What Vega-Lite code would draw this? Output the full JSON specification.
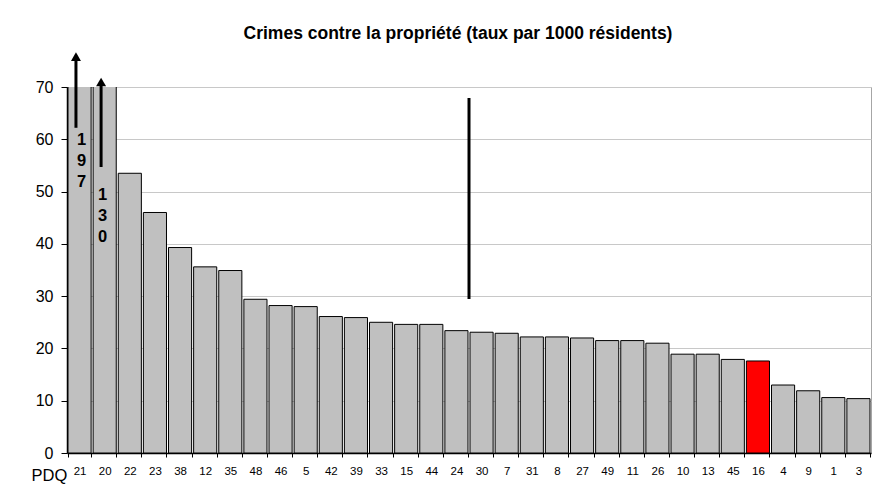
{
  "$schema": "https://vega.github.io/schema/vega-lite/v6.json",
  "width": 804,
  "height": 366,
  "autosize": {"type": "none"},
  "padding": {"left": 67, "top": 87, "right": 19, "bottom": 46},
  "background": "white",
  "title": {
    "text": "Crimes contre la propriété (taux par 1000 résidents)",
    "font": "Liberation Sans",
    "fontSize": 17.5,
    "fontWeight": "bold",
    "color": "#000000",
    "anchor": "middle",
    "frame": "group",
    "dx": -11,
    "offset": 10
  },
  "datasets": {
    "taux": [
      {"pdq": "21", "taux": 197},
      {"pdq": "20", "taux": 130},
      {"pdq": "22", "taux": 53.5},
      {"pdq": "23", "taux": 46.0},
      {"pdq": "38", "taux": 39.3},
      {"pdq": "12", "taux": 35.6},
      {"pdq": "35", "taux": 34.9},
      {"pdq": "48", "taux": 29.4},
      {"pdq": "46", "taux": 28.2},
      {"pdq": "5", "taux": 28.0},
      {"pdq": "42", "taux": 26.1},
      {"pdq": "39", "taux": 25.9},
      {"pdq": "33", "taux": 25.0},
      {"pdq": "15", "taux": 24.6},
      {"pdq": "44", "taux": 24.6},
      {"pdq": "24", "taux": 23.4},
      {"pdq": "30", "taux": 23.1},
      {"pdq": "7", "taux": 22.9},
      {"pdq": "31", "taux": 22.2},
      {"pdq": "8", "taux": 22.2},
      {"pdq": "27", "taux": 22.0},
      {"pdq": "49", "taux": 21.5},
      {"pdq": "11", "taux": 21.5},
      {"pdq": "26", "taux": 21.0},
      {"pdq": "10", "taux": 18.9},
      {"pdq": "13", "taux": 18.9},
      {"pdq": "45", "taux": 17.9},
      {"pdq": "16", "taux": 17.6},
      {"pdq": "4", "taux": 13.0},
      {"pdq": "9", "taux": 11.9},
      {"pdq": "1", "taux": 10.6},
      {"pdq": "3", "taux": 10.4}
    ],
    "fleches": [
      {"pdq": "21", "bas": 62.2, "haut": 75.0, "pointe": 75.8},
      {"pdq": "20", "bas": 54.7, "haut": 70.3, "pointe": 70.95}
    ],
    "etiquettes": [
      {"pdq": "21", "y": 59.9, "texte": "1\n9\n7"},
      {"pdq": "20", "y": 49.3, "texte": "1\n3\n0"}
    ],
    "separateur": [
      {"pdq": "30", "bas": 29.45, "haut": 67.9}
    ]
  },
  "config": {
    "view": {"stroke": "#a6a6a6", "strokeWidth": 1, "fill": "white"},
    "font": "Liberation Sans"
  },
  "encoding": {
    "x": {
      "field": "pdq",
      "type": "nominal",
      "sort": null,
      "scale": {"paddingInner": 0.08, "paddingOuter": 0.04},
      "axis": {
        "title": "PDQ",
        "titleFont": "Liberation Sans",
        "titleFontSize": 16.5,
        "titleFontWeight": "normal",
        "titleColor": "#000000",
        "titleAnchor": "start",
        "titleAlign": "left",
        "titleBaseline": "alphabetic",
        "titleX": -36,
        "titleY": 27,
        "labelAngle": 0,
        "labelFont": "Liberation Sans Narrow, Liberation Sans",
        "labelFontSize": 11.5,
        "labelColor": "#000000",
        "labelPadding": 8,
        "tickBand": "extent",
        "tickSize": 4,
        "tickColor": "#000000",
        "domainColor": "#000000",
        "domainWidth": 1.5,
        "grid": false
      }
    }
  },
  "layer": [
    {
      "data": {"name": "taux"},
      "mark": {"type": "bar", "clip": true, "stroke": "#000000", "strokeWidth": 1},
      "encoding": {
        "y": {
          "field": "taux",
          "type": "quantitative",
          "scale": {"domain": [0, 70], "nice": false},
          "axis": {
            "title": null,
            "values": [0, 10, 20, 30, 40, 50, 60, 70],
            "grid": true,
            "gridColor": "#c8c8c8",
            "gridWidth": 1,
            "labelFont": "Liberation Sans",
            "labelFontSize": 16,
            "labelColor": "#000000",
            "labelPadding": 8,
            "tickSize": 6,
            "tickColor": "#000000",
            "domainColor": "#000000",
            "domainWidth": 1.5
          }
        },
        "color": {
          "condition": {"test": "datum.pdq === '16'", "value": "#ff0000"},
          "value": "#c0c0c0"
        }
      }
    },
    {
      "data": {"name": "fleches"},
      "mark": {"type": "rule", "strokeWidth": 3, "color": "#000000", "xOffset": -3.6},
      "encoding": {
        "y": {"field": "bas", "type": "quantitative"},
        "y2": {"field": "haut"}
      }
    },
    {
      "data": {"name": "fleches"},
      "mark": {"type": "point", "shape": "triangle-up", "filled": true, "size": 100, "color": "#000000", "opacity": 1, "xOffset": -3.6},
      "encoding": {
        "y": {"field": "pointe", "type": "quantitative"}
      }
    },
    {
      "data": {"name": "etiquettes"},
      "transform": [{"filter": "datum.pdq === '21'"}],
      "mark": {"type": "text", "font": "Liberation Sans", "fontSize": 16.5, "fontWeight": "bold", "color": "#000000", "lineBreak": "\n", "lineHeight": 21, "baseline": "middle", "align": "center", "xOffset": 2},
      "encoding": {
        "y": {"field": "y", "type": "quantitative"},
        "text": {"field": "texte"}
      }
    },
    {
      "data": {"name": "etiquettes"},
      "transform": [{"filter": "datum.pdq === '20'"}],
      "mark": {"type": "text", "font": "Liberation Sans", "fontSize": 16.5, "fontWeight": "bold", "color": "#000000", "lineBreak": "\n", "lineHeight": 21, "baseline": "middle", "align": "center", "xOffset": -2},
      "encoding": {
        "y": {"field": "y", "type": "quantitative"},
        "text": {"field": "texte"}
      }
    },
    {
      "data": {"name": "separateur"},
      "mark": {"type": "rule", "strokeWidth": 3, "color": "#000000", "xOffset": -1},
      "encoding": {
        "x": {"field": "pdq", "type": "nominal", "sort": null, "bandPosition": 0},
        "y": {"field": "bas", "type": "quantitative"},
        "y2": {"field": "haut"}
      }
    }
  ]
}
